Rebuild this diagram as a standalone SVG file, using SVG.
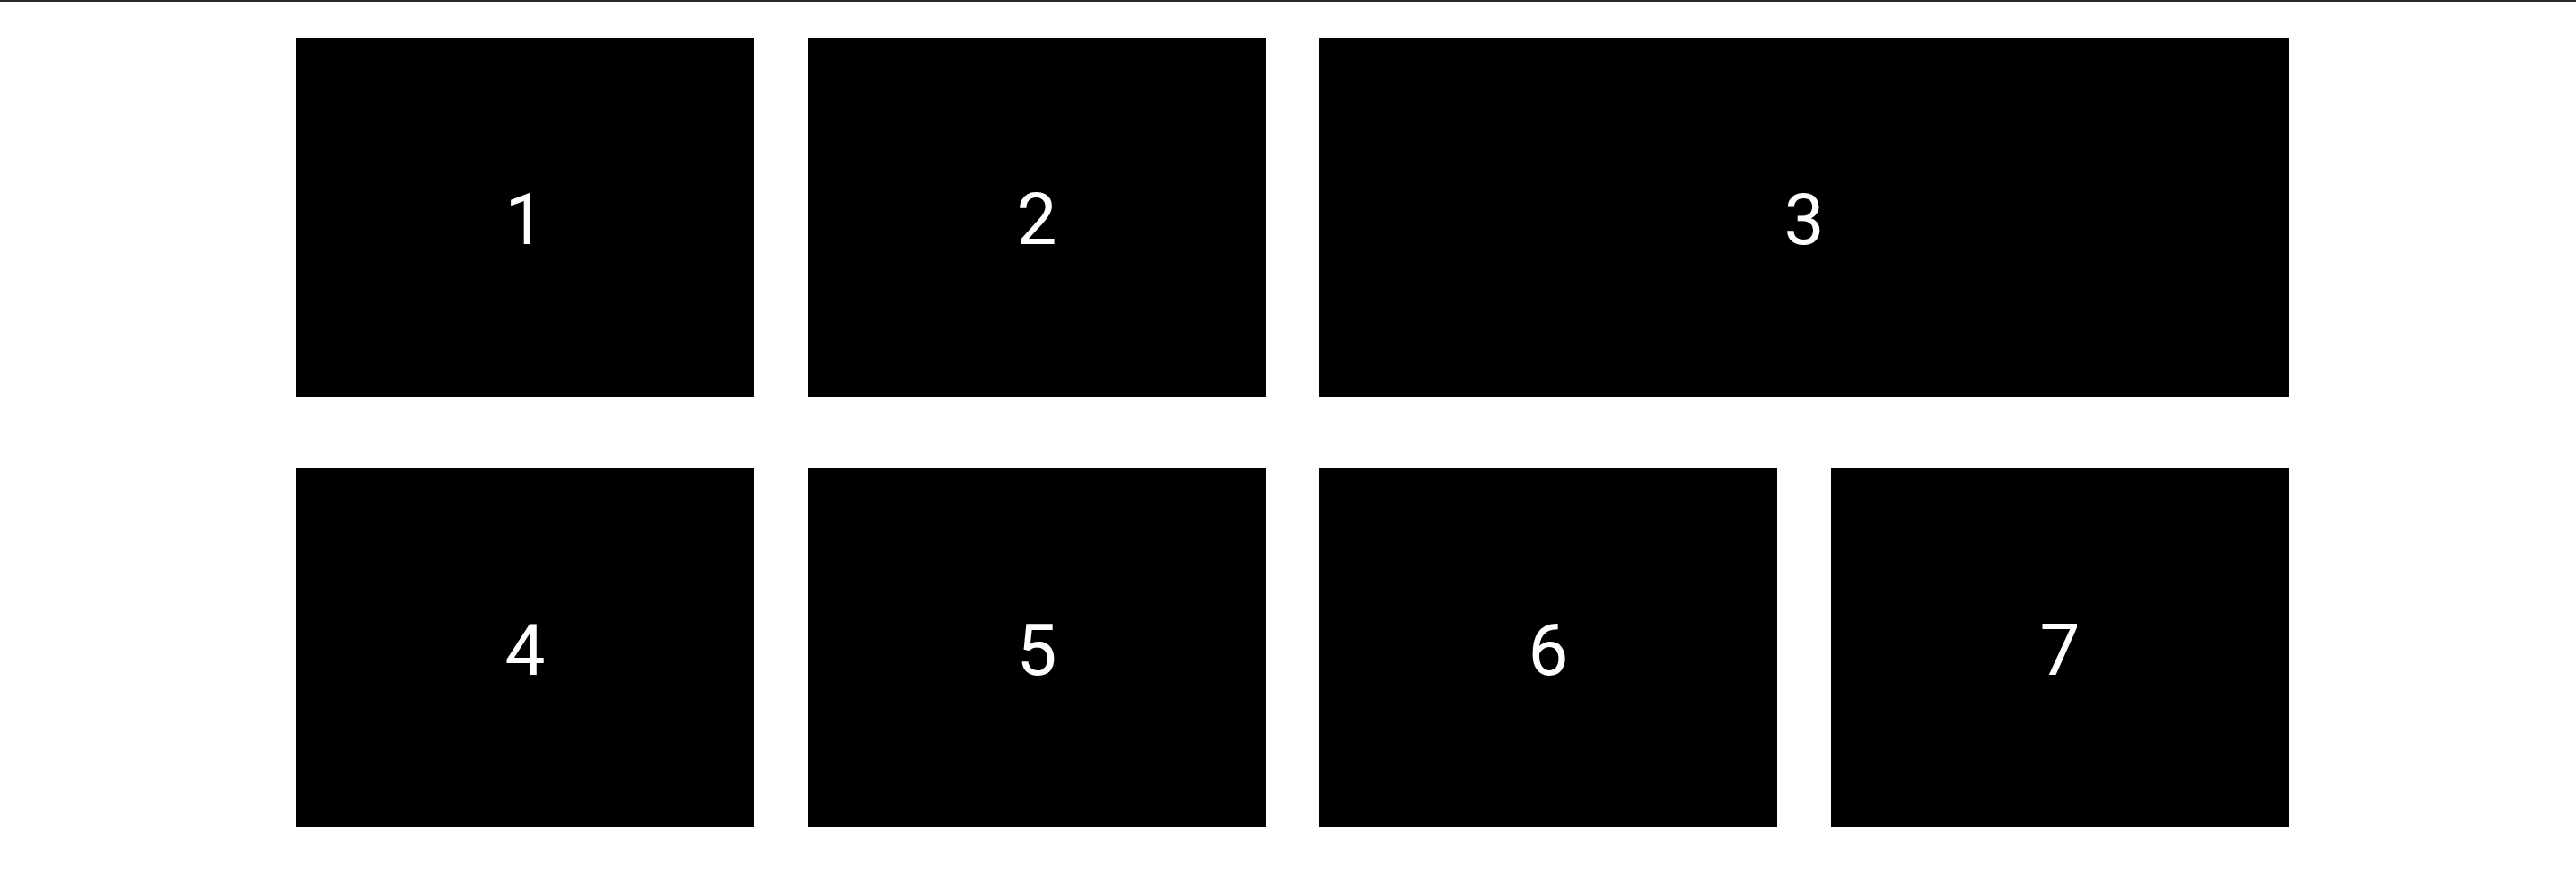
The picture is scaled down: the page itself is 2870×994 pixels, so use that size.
<svg xmlns="http://www.w3.org/2000/svg" width="2870" height="994" viewBox="0 0 2870 994">
<style>
.box{fill:#000}
.lbl{fill:#fff;font-family:Roboto,"Liberation Sans",Arial,sans-serif;font-size:80px;text-anchor:middle}
</style>
<rect x="0" y="0" width="2870" height="994" fill="#fff"/>
<rect x="0" y="0" width="2870" height="2" fill="#2a2a2a"/>
<g id="node1"><rect class="box" x="330" y="42" width="510" height="400"/><text class="lbl" x="585" y="272">1</text></g>
<g id="node2"><rect class="box" x="900" y="42" width="510" height="400"/><text class="lbl" x="1155" y="272">2</text></g>
<g id="node3"><rect class="box" x="1470" y="42" width="1080" height="400"/><text class="lbl" x="2010" y="272">3</text></g>
<g id="node4"><rect class="box" x="330" y="522" width="510" height="400"/><text class="lbl" x="585" y="752">4</text></g>
<g id="node5"><rect class="box" x="900" y="522" width="510" height="400"/><text class="lbl" x="1155" y="752">5</text></g>
<g id="node6"><rect class="box" x="1470" y="522" width="510" height="400"/><text class="lbl" x="1725" y="752">6</text></g>
<g id="node7"><rect class="box" x="2040" y="522" width="510" height="400"/><text class="lbl" x="2295" y="752">7</text></g>
<g id="connectors"></g>
</svg>
